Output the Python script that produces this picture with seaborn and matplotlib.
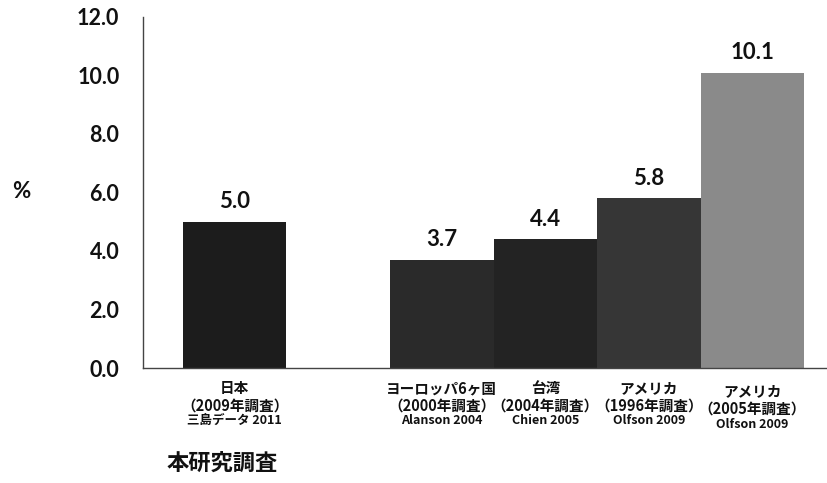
import matplotlib
matplotlib.use("Agg")
import matplotlib.pyplot as plt
import seaborn as sns
import pandas as pd

# Survey data: prevalence (%)
regions = ["日本", "ヨーロッパ6ヶ国", "台湾", "アメリカ", "アメリカ"]
survey_years = ["（2009年調査）", "（2000年調査）", "（2004年調査）", "（1996年調査）", "（2005年調査）"]
sources = ["三島データ 2011", "Alanson 2004", "Chien 2005", "Olfson 2009", "Olfson 2009"]
values = [5.0, 3.7, 4.4, 5.8, 10.1]
bar_colors = ["#1c1c1c", "#2a2a2a", "#232323", "#363636", "#8a8a8a"]
y_ticks = [0.0, 2.0, 4.0, 6.0, 8.0, 10.0, 12.0]

keys = [f"{r}{y}" for r, y in zip(regions, survey_years)]
df = pd.DataFrame({"key": keys, "value": values})
order = [keys[0], "_gap"] + keys[1:]
palette = dict(zip(keys, bar_colors))

sns.set_theme(style="white")
CJK = ["Noto Sans CJK JP", "DejaVu Sans"]
NUM = ["Lato", "DejaVu Sans"]
plt.rcParams["font.family"] = CJK

fig = plt.figure(figsize=(8.28, 4.83), dpi=100)
ax = fig.add_axes([0.1727, 0.238, 0.8273, 0.727])

sns.barplot(data=df, x="key", y="value", hue="key", order=order,
            hue_order=keys, palette=palette, width=1.0, legend=False,
            saturation=1.0, linewidth=0, ax=ax)

for cont in ax.containers:
    ax.bar_label(cont, fmt="%.1f", padding=7, fontsize=16,
                 fontfamily=NUM, fontweight="bold", color="#111111")

ax.set_ylim(0, 12)
ax.set_xlim(-0.886, 5.73)
ax.set_yticks(y_ticks)
ax.set_yticklabels([f"{t:.1f}" for t in y_ticks], fontsize=15.5,
                   fontfamily=NUM, fontweight="bold", color="#111111")
ax.tick_params(axis="y", length=0, pad=17)
ax.tick_params(axis="x", length=0)
ax.set_xticks(range(len(order)))
ax.set_xticklabels([])
ax.set_xlabel("")
ax.set_ylabel("")

for side in ["top", "right"]:
    ax.spines[side].set_visible(False)
for side in ["left", "bottom"]:
    ax.spines[side].set_color("#444444")
    ax.spines[side].set_linewidth(1.0)

# Multi-line category labels under each bar
positions = [0, 2, 3, 4, 5]
for i, (pos, reg, yr, src) in enumerate(zip(positions, regions, survey_years, sources)):
    extra = -2.5 if i == 4 else 0
    ax.annotate(reg, xy=(pos, 0), xycoords=("data", "axes fraction"),
                xytext=(0, -14.4 + extra), textcoords="offset points",
                ha="center", va="center", fontsize=10.5, fontweight="bold",
                color="#111111")
    ax.annotate(yr, xy=(pos, 0), xycoords=("data", "axes fraction"),
                xytext=(0, -26.8 + extra), textcoords="offset points",
                ha="center", va="center", fontsize=10.5, fontweight="bold",
                color="#111111")
    ax.annotate(src, xy=(pos, 0), xycoords=("data", "axes fraction"),
                xytext=(0, -38 + extra), textcoords="offset points",
                ha="center", va="center", fontsize=9, fontweight="bold",
                color="#111111")

fig.text(222 / 828, 1 - 463 / 483, "本研究調査", ha="center", va="center",
         fontsize=16, fontweight="bold", color="#111111")
fig.text(21 / 828, 1 - 192 / 483, "%", ha="center", va="center",
         fontsize=16, fontfamily=NUM, fontweight="bold", color="#111111")

fig.savefig("out.png", dpi=100, facecolor="white")
